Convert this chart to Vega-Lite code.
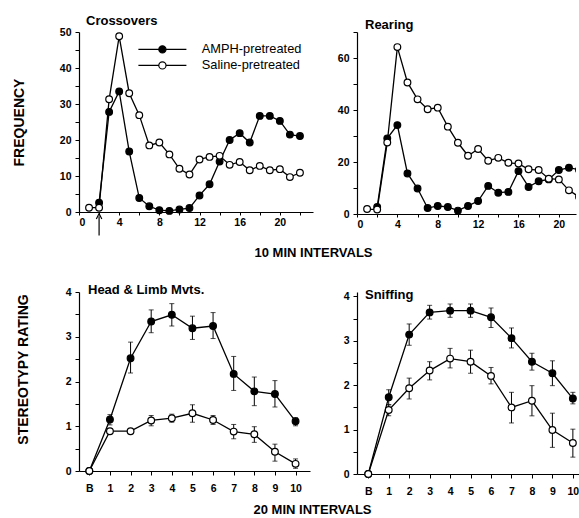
{
  "$schema": "https://vega.github.io/schema/vega-lite/v6.json",
  "padding": {"left": 12, "top": 15, "right": 0, "bottom": 0},
  "background": "white",
  "config": {
    "font": "Liberation Sans",
    "view": {"stroke": null},
    "axis": {
      "grid": false,
      "domainColor": "black",
      "domainWidth": 1.2,
      "tickColor": "black",
      "tickWidth": 1,
      "tickSize": 4,
      "labelColor": "black",
      "labelFont": "Liberation Sans",
      "labelFontWeight": "bold",
      "labelFontSize": 10.5,
      "titleColor": "black",
      "titleFont": "Liberation Sans",
      "titleFontWeight": "bold"
    },
    "title": {"font": "Liberation Sans", "fontWeight": "bold", "fontSize": 13, "color": "black"}
  },
  "datasets": {
    "crossovers": [
      {"x": 2, "y": 2.6, "group": "AMPH-pretreated"},
      {"x": 3, "y": 27.8, "group": "AMPH-pretreated"},
      {"x": 4, "y": 33.5, "group": "AMPH-pretreated"},
      {"x": 5, "y": 16.8, "group": "AMPH-pretreated"},
      {"x": 6, "y": 3.9, "group": "AMPH-pretreated"},
      {"x": 7, "y": 1.6, "group": "AMPH-pretreated"},
      {"x": 8, "y": 0.5, "group": "AMPH-pretreated"},
      {"x": 9, "y": 0.3, "group": "AMPH-pretreated"},
      {"x": 10, "y": 0.7, "group": "AMPH-pretreated"},
      {"x": 11, "y": 1.1, "group": "AMPH-pretreated"},
      {"x": 12, "y": 4.6, "group": "AMPH-pretreated"},
      {"x": 13, "y": 7.7, "group": "AMPH-pretreated"},
      {"x": 14, "y": 14, "group": "AMPH-pretreated"},
      {"x": 15, "y": 20, "group": "AMPH-pretreated"},
      {"x": 16, "y": 21.9, "group": "AMPH-pretreated"},
      {"x": 17, "y": 19.3, "group": "AMPH-pretreated"},
      {"x": 18, "y": 26.7, "group": "AMPH-pretreated"},
      {"x": 19, "y": 26.7, "group": "AMPH-pretreated"},
      {"x": 20, "y": 25.3, "group": "AMPH-pretreated"},
      {"x": 21, "y": 21.5, "group": "AMPH-pretreated"},
      {"x": 22, "y": 21.1, "group": "AMPH-pretreated"},
      {"x": 1, "y": 1.2, "group": "Saline-pretreated"},
      {"x": 2, "y": 1.2, "group": "Saline-pretreated"},
      {"x": 3, "y": 31.3, "group": "Saline-pretreated"},
      {"x": 4, "y": 48.8, "group": "Saline-pretreated"},
      {"x": 5, "y": 33, "group": "Saline-pretreated"},
      {"x": 6, "y": 26.9, "group": "Saline-pretreated"},
      {"x": 7, "y": 18.5, "group": "Saline-pretreated"},
      {"x": 8, "y": 19.3, "group": "Saline-pretreated"},
      {"x": 9, "y": 16, "group": "Saline-pretreated"},
      {"x": 10, "y": 12, "group": "Saline-pretreated"},
      {"x": 11, "y": 10.4, "group": "Saline-pretreated"},
      {"x": 12, "y": 14.6, "group": "Saline-pretreated"},
      {"x": 13, "y": 15.3, "group": "Saline-pretreated"},
      {"x": 14, "y": 15.6, "group": "Saline-pretreated"},
      {"x": 15, "y": 13.1, "group": "Saline-pretreated"},
      {"x": 16, "y": 13.9, "group": "Saline-pretreated"},
      {"x": 17, "y": 11.6, "group": "Saline-pretreated"},
      {"x": 18, "y": 12.8, "group": "Saline-pretreated"},
      {"x": 19, "y": 11.6, "group": "Saline-pretreated"},
      {"x": 20, "y": 11.9, "group": "Saline-pretreated"},
      {"x": 21, "y": 9.7, "group": "Saline-pretreated"},
      {"x": 22, "y": 10.9, "group": "Saline-pretreated"}
    ],
    "rearing": [
      {"x": 2, "y": 2.7, "group": "AMPH-pretreated"},
      {"x": 3, "y": 29.1, "group": "AMPH-pretreated"},
      {"x": 4, "y": 34.2, "group": "AMPH-pretreated"},
      {"x": 5, "y": 15.6, "group": "AMPH-pretreated"},
      {"x": 6, "y": 9.8, "group": "AMPH-pretreated"},
      {"x": 7, "y": 2.3, "group": "AMPH-pretreated"},
      {"x": 8, "y": 3.1, "group": "AMPH-pretreated"},
      {"x": 9, "y": 2.7, "group": "AMPH-pretreated"},
      {"x": 10, "y": 1.3, "group": "AMPH-pretreated"},
      {"x": 11, "y": 3.1, "group": "AMPH-pretreated"},
      {"x": 12, "y": 5, "group": "AMPH-pretreated"},
      {"x": 13, "y": 10.8, "group": "AMPH-pretreated"},
      {"x": 14, "y": 8.2, "group": "AMPH-pretreated"},
      {"x": 15, "y": 8.5, "group": "AMPH-pretreated"},
      {"x": 16, "y": 16.5, "group": "AMPH-pretreated"},
      {"x": 17, "y": 10.4, "group": "AMPH-pretreated"},
      {"x": 18, "y": 12.6, "group": "AMPH-pretreated"},
      {"x": 19, "y": 13.3, "group": "AMPH-pretreated"},
      {"x": 20, "y": 16.9, "group": "AMPH-pretreated"},
      {"x": 21, "y": 17.8, "group": "AMPH-pretreated"},
      {"x": 22, "y": 17, "group": "AMPH-pretreated"},
      {"x": 1, "y": 1.9, "group": "Saline-pretreated"},
      {"x": 2, "y": 1.7, "group": "Saline-pretreated"},
      {"x": 3, "y": 27.5, "group": "Saline-pretreated"},
      {"x": 4, "y": 64.2, "group": "Saline-pretreated"},
      {"x": 5, "y": 50.6, "group": "Saline-pretreated"},
      {"x": 6, "y": 44.1, "group": "Saline-pretreated"},
      {"x": 7, "y": 40.3, "group": "Saline-pretreated"},
      {"x": 8, "y": 40.9, "group": "Saline-pretreated"},
      {"x": 9, "y": 33.6, "group": "Saline-pretreated"},
      {"x": 10, "y": 27.4, "group": "Saline-pretreated"},
      {"x": 11, "y": 22.4, "group": "Saline-pretreated"},
      {"x": 12, "y": 25, "group": "Saline-pretreated"},
      {"x": 13, "y": 20.5, "group": "Saline-pretreated"},
      {"x": 14, "y": 21.6, "group": "Saline-pretreated"},
      {"x": 15, "y": 19.7, "group": "Saline-pretreated"},
      {"x": 16, "y": 19.4, "group": "Saline-pretreated"},
      {"x": 17, "y": 17.2, "group": "Saline-pretreated"},
      {"x": 18, "y": 16.9, "group": "Saline-pretreated"},
      {"x": 19, "y": 13.6, "group": "Saline-pretreated"},
      {"x": 20, "y": 13.3, "group": "Saline-pretreated"},
      {"x": 21, "y": 9.1, "group": "Saline-pretreated"},
      {"x": 22, "y": 6.6, "group": "Saline-pretreated"}
    ],
    "headlimb": [
      {"x": 0, "y": 0, "group": "AMPH-pretreated"},
      {"x": 1, "y": 1.15, "lo": 1.03, "hi": 1.26, "group": "AMPH-pretreated"},
      {"x": 2, "y": 2.52, "lo": 2.19, "hi": 2.88, "group": "AMPH-pretreated"},
      {"x": 3, "y": 3.34, "lo": 3.09, "hi": 3.6, "group": "AMPH-pretreated"},
      {"x": 4, "y": 3.49, "lo": 3.24, "hi": 3.74, "group": "AMPH-pretreated"},
      {"x": 5, "y": 3.19, "lo": 2.94, "hi": 3.46, "group": "AMPH-pretreated"},
      {"x": 6, "y": 3.24, "lo": 2.96, "hi": 3.54, "group": "AMPH-pretreated"},
      {"x": 7, "y": 2.17, "lo": 1.8, "hi": 2.56, "group": "AMPH-pretreated"},
      {"x": 8, "y": 1.78, "lo": 1.46, "hi": 2.1, "group": "AMPH-pretreated"},
      {"x": 9, "y": 1.72, "lo": 1.43, "hi": 2.02, "group": "AMPH-pretreated"},
      {"x": 10, "y": 1.11, "lo": 1.01, "hi": 1.19, "group": "AMPH-pretreated"},
      {"x": 0, "y": 0, "group": "Saline-pretreated"},
      {"x": 1, "y": 0.89, "lo": 0.84, "hi": 0.94, "group": "Saline-pretreated"},
      {"x": 2, "y": 0.89, "lo": 0.84, "hi": 0.94, "group": "Saline-pretreated"},
      {"x": 3, "y": 1.13, "lo": 1.01, "hi": 1.24, "group": "Saline-pretreated"},
      {"x": 4, "y": 1.18, "lo": 1.09, "hi": 1.27, "group": "Saline-pretreated"},
      {"x": 5, "y": 1.29, "lo": 1.09, "hi": 1.48, "group": "Saline-pretreated"},
      {"x": 6, "y": 1.14, "lo": 1.04, "hi": 1.24, "group": "Saline-pretreated"},
      {"x": 7, "y": 0.88, "lo": 0.72, "hi": 1.04, "group": "Saline-pretreated"},
      {"x": 8, "y": 0.82, "lo": 0.64, "hi": 0.99, "group": "Saline-pretreated"},
      {"x": 9, "y": 0.43, "lo": 0.22, "hi": 0.6, "group": "Saline-pretreated"},
      {"x": 10, "y": 0.16, "lo": 0.06, "hi": 0.27, "group": "Saline-pretreated"}
    ],
    "sniffing": [
      {"x": 0, "y": 0, "group": "AMPH-pretreated"},
      {"x": 1, "y": 1.73, "lo": 1.56, "hi": 1.9, "group": "AMPH-pretreated"},
      {"x": 2, "y": 3.14, "lo": 2.9, "hi": 3.38, "group": "AMPH-pretreated"},
      {"x": 3, "y": 3.64, "lo": 3.49, "hi": 3.8, "group": "AMPH-pretreated"},
      {"x": 4, "y": 3.68, "lo": 3.53, "hi": 3.83, "group": "AMPH-pretreated"},
      {"x": 5, "y": 3.68, "lo": 3.53, "hi": 3.83, "group": "AMPH-pretreated"},
      {"x": 6, "y": 3.53, "lo": 3.3, "hi": 3.74, "group": "AMPH-pretreated"},
      {"x": 7, "y": 3.06, "lo": 2.84, "hi": 3.29, "group": "AMPH-pretreated"},
      {"x": 8, "y": 2.53, "lo": 2.34, "hi": 2.72, "group": "AMPH-pretreated"},
      {"x": 9, "y": 2.27, "lo": 1.99, "hi": 2.55, "group": "AMPH-pretreated"},
      {"x": 10, "y": 1.7, "lo": 1.58, "hi": 1.84, "group": "AMPH-pretreated"},
      {"x": 0, "y": 0, "group": "Saline-pretreated"},
      {"x": 1, "y": 1.44, "lo": 1.31, "hi": 1.56, "group": "Saline-pretreated"},
      {"x": 2, "y": 1.93, "lo": 1.69, "hi": 2.16, "group": "Saline-pretreated"},
      {"x": 3, "y": 2.33, "lo": 2.12, "hi": 2.53, "group": "Saline-pretreated"},
      {"x": 4, "y": 2.6, "lo": 2.39, "hi": 2.83, "group": "Saline-pretreated"},
      {"x": 5, "y": 2.53, "lo": 2.27, "hi": 2.79, "group": "Saline-pretreated"},
      {"x": 6, "y": 2.21, "lo": 2.03, "hi": 2.4, "group": "Saline-pretreated"},
      {"x": 7, "y": 1.5, "lo": 1.15, "hi": 1.84, "group": "Saline-pretreated"},
      {"x": 8, "y": 1.65, "lo": 1.31, "hi": 1.99, "group": "Saline-pretreated"},
      {"x": 9, "y": 0.99, "lo": 0.6, "hi": 1.37, "group": "Saline-pretreated"},
      {"x": 10, "y": 0.7, "lo": 0.38, "hi": 1.01, "group": "Saline-pretreated"}
    ],
    "arrow": [
      {"x": 2, "y": -1.2, "y2": -6.5}
    ]
  },
  "columns": 2,
  "bounds": "flush",
  "spacing": {"column": 44, "row": 78},
  "resolve": {"scale": {"fill": "independent"}, "legend": {"fill": "independent"}},
  "concat": [
    {
      "width": 234,
      "height": 180,
      "title": {"text": "Crossovers", "anchor": "start", "frame": "group", "offset": 0, "baseline": "middle", "dx": 7, "dy": 7},
      "data": {"name": "crossovers"},
      "encoding": {
        "x": {"field": "x", "type": "quantitative", "scale": {"domain": [0, 23.3], "nice": false, "zero": false},
          "axis": {"values": [0, 2, 4, 6, 8, 10, 12, 14, 16, 18, 20, 22], "labelExpr": "datum.value % 4 == 0 ? datum.label : ''", "tickSize": 3, "labelPadding": 2,
            "title": "10 MIN INTERVALS", "titleFontSize": 13, "titleX": 234, "titleY": 40, "titleAlign": "center", "titleBaseline": "middle", "titleAngle": 0}},
        "y": {"field": "y", "type": "quantitative", "scale": {"domain": [0, 50], "nice": false},
          "axis": {"values": [0, 5, 10, 15, 20, 25, 30, 35, 40, 45, 50], "labelExpr": "datum.value % 10 == 0 ? datum.label : ''", "labelPadding": 4,
            "title": "FREQUENCY", "titleFontSize": 14, "titleX": -60, "titleY": 90, "titleAlign": "center", "titleBaseline": "middle", "titleAngle": -90}}
      },
      "layer": [
        {"mark": {"type": "line", "color": "black", "strokeWidth": 1.3}, "encoding": {"detail": {"field": "group"}}},
        {"mark": {"type": "point", "shape": "circle", "filled": true, "size": 45, "stroke": "black", "strokeWidth": 1.2, "opacity": 1},
          "encoding": {"fill": {"field": "group", "type": "nominal",
            "scale": {"domain": ["AMPH-pretreated", "Saline-pretreated"], "range": ["black", "white"]},
            "legend": {"orient": "none", "legendX": 77, "legendY": 11, "title": null, "padding": 0,
              "symbolType": "M-6,0L-0.9,0M0.9,0L6,0M-0.9,0A0.9,0.9,0,1,1,0.9,0A0.9,0.9,0,1,1,-0.9,0Z",
              "symbolSize": 64, "symbolStrokeColor": "black", "symbolStrokeWidth": 1.2, "symbolOpacity": 1,
              "labelFont": "Liberation Sans", "labelFontSize": 12.8, "labelFontWeight": "normal", "labelColor": "black", "labelOffset": 33, "rowPadding": 2}}}},
        {"data": {"name": "arrow"}, "mark": {"type": "rule", "color": "black", "strokeWidth": 1.2},
          "encoding": {"y2": {"field": "y2"}}},
        {"data": {"name": "arrow"}, "mark": {"type": "point", "shape": "M-1,1L0,-1L1,1", "filled": false, "size": 30, "stroke": "black", "strokeWidth": 1.2, "opacity": 1},
          "encoding": {}}
      ]
    },
    {
      "width": 219,
      "height": 182,
      "title": {"text": "Rearing", "anchor": "start", "frame": "group", "offset": 0, "baseline": "middle", "dx": 8, "dy": 6},
      "data": {"name": "rearing"},
      "encoding": {
        "x": {"field": "x", "type": "quantitative", "scale": {"domain": [0, 21.7], "nice": false, "zero": false},
          "axis": {"values": [0, 2, 4, 6, 8, 10, 12, 14, 16, 18, 20], "labelExpr": "datum.value % 4 == 0 ? datum.label : ''", "tickSize": 3, "labelPadding": 2, "title": null}},
        "y": {"field": "y", "type": "quantitative", "scale": {"domain": [0, 70], "nice": false},
          "axis": {"values": [0, 10, 20, 30, 40, 50, 60, 70], "labelExpr": "datum.value % 20 == 0 ? datum.label : ''", "labelPadding": 4, "title": null}}
      },
      "layer": [
        {"mark": {"type": "line", "color": "black", "strokeWidth": 1.3, "clip": true}, "encoding": {"detail": {"field": "group"}}},
        {"mark": {"type": "point", "shape": "circle", "filled": true, "size": 45, "stroke": "black", "strokeWidth": 1.2, "opacity": 1, "clip": true},
          "encoding": {"fill": {"field": "group", "type": "nominal",
            "scale": {"domain": ["AMPH-pretreated", "Saline-pretreated"], "range": ["black", "white"]}, "legend": null}}}
      ]
    },
    {
      "width": 231,
      "height": 179,
      "title": {"text": "Head & Limb Mvts.", "anchor": "start", "frame": "group", "offset": 0, "baseline": "middle", "dx": 9, "dy": 16},
      "data": {"name": "headlimb"},
      "encoding": {
        "x": {"field": "x", "type": "quantitative", "scale": {"domain": [-0.5, 10.7], "nice": false, "zero": false},
          "axis": {"values": [0, 1, 2, 3, 4, 5, 6, 7, 8, 9, 10], "labelExpr": "datum.value == 0 ? 'B' : datum.label", "tickSize": 4, "labelPadding": 8,
            "title": "20 MIN INTERVALS", "titleFontSize": 13, "titleX": 233, "titleY": 38, "titleAlign": "center", "titleBaseline": "middle", "titleAngle": 0}},
        "y": {"field": "y", "type": "quantitative", "scale": {"domain": [0, 4], "nice": false},
          "axis": {"values": [0, 0.5, 1, 1.5, 2, 2.5, 3, 3.5, 4], "labelExpr": "datum.value % 1 == 0 ? format(datum.value, 'd') : ''", "labelPadding": 4,
            "title": "STEREOTYPY RATING", "titleFontSize": 14, "titleX": -56, "titleY": 77, "titleAlign": "center", "titleBaseline": "middle", "titleAngle": -90}}
      },
      "layer": [
        {"mark": {"type": "line", "color": "black", "strokeWidth": 1.3}, "encoding": {"detail": {"field": "group"}}},
        {"mark": {"type": "rule", "color": "black", "strokeWidth": 1}, "encoding": {"y": {"field": "lo", "type": "quantitative"}, "y2": {"field": "hi"}}},
        {"mark": {"type": "tick", "orient": "horizontal", "color": "black", "size": 5, "thickness": 1}, "encoding": {"y": {"field": "lo", "type": "quantitative"}}},
        {"mark": {"type": "tick", "orient": "horizontal", "color": "black", "size": 5, "thickness": 1}, "encoding": {"y": {"field": "hi", "type": "quantitative"}}},
        {"mark": {"type": "point", "shape": "circle", "filled": true, "size": 45, "stroke": "black", "strokeWidth": 1.2, "opacity": 1},
          "encoding": {"fill": {"field": "group", "type": "nominal",
            "scale": {"domain": ["AMPH-pretreated", "Saline-pretreated"], "range": ["black", "white"]}, "legend": null}}}
      ]
    },
    {
      "width": 222,
      "height": 182,
      "title": {"text": "Sniffing", "anchor": "start", "frame": "group", "offset": 0, "baseline": "middle", "dx": 8, "dy": 17},
      "data": {"name": "sniffing"},
      "encoding": {
        "x": {"field": "x", "type": "quantitative", "scale": {"domain": [-0.55, 10.3], "nice": false, "zero": false},
          "axis": {"values": [0, 1, 2, 3, 4, 5, 6, 7, 8, 9, 10], "labelExpr": "datum.value == 0 ? 'B' : datum.label", "tickSize": 4, "labelPadding": 8, "title": null}},
        "y": {"field": "y", "type": "quantitative", "scale": {"domain": [0, 4.1], "nice": false},
          "axis": {"values": [0, 0.5, 1, 1.5, 2, 2.5, 3, 3.5, 4], "labelExpr": "datum.value % 1 == 0 ? format(datum.value, 'd') : ''", "labelPadding": 4, "title": null}}
      },
      "layer": [
        {"mark": {"type": "line", "color": "black", "strokeWidth": 1.3}, "encoding": {"detail": {"field": "group"}}},
        {"mark": {"type": "rule", "color": "black", "strokeWidth": 1}, "encoding": {"y": {"field": "lo", "type": "quantitative"}, "y2": {"field": "hi"}}},
        {"mark": {"type": "tick", "orient": "horizontal", "color": "black", "size": 5, "thickness": 1}, "encoding": {"y": {"field": "lo", "type": "quantitative"}}},
        {"mark": {"type": "tick", "orient": "horizontal", "color": "black", "size": 5, "thickness": 1}, "encoding": {"y": {"field": "hi", "type": "quantitative"}}},
        {"mark": {"type": "point", "shape": "circle", "filled": true, "size": 45, "stroke": "black", "strokeWidth": 1.2, "opacity": 1},
          "encoding": {"fill": {"field": "group", "type": "nominal",
            "scale": {"domain": ["AMPH-pretreated", "Saline-pretreated"], "range": ["black", "white"]}, "legend": null}}}
      ]
    }
  ]
}
